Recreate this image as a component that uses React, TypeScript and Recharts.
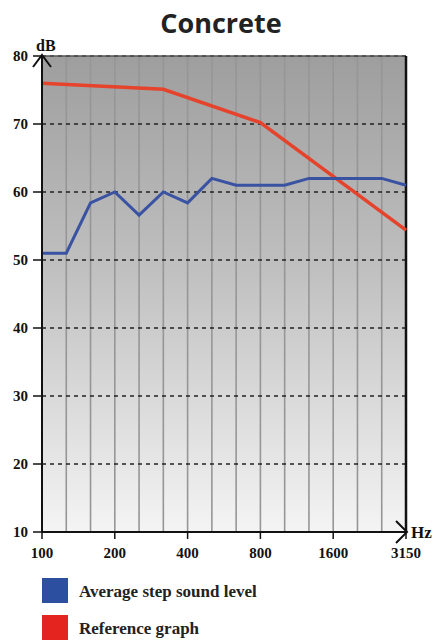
import React from "react";
import { LineChart, Line, XAxis, YAxis, CartesianGrid, ReferenceLine } from "recharts";

// third-octave bands, Hz
const bands = ["100", "125", "160", "200", "250", "315", "400", "500", "630", "800", "1000", "1250", "1600", "2000", "2500", "3150"];
const stepLevel = [51, 51, 58.4, 60, 56.6, 60, 58.4, 62, 61, 61, 61, 62, 62, 62, 62, 61];
// reference graph is straight segments between its corner bands
const referenceGraph = [76, null, null, null, null, 75.1, null, null, null, 70.2, null, null, null, null, null, 54.4];
const labeledBands = ["100", "200", "400", "800", "1600", "3150"];
const dbTicks = [10, 20, 30, 40, 50, 60, 70, 80];

const data = bands.map((hz, i) => ({ hz, step: stepLevel[i], ref: referenceGraph[i] }));

const SERIF = "'Liberation Serif', 'DejaVu Serif', serif";
const BLUE = "#3a52a2";
const RED = "#e5432c";

const HzTick = ({ x, y, payload }: any) => {
  if (!labeledBands.includes(payload.value)) return null;
  return (
    <g>
      <line x1={x} x2={x} y1={y} y2={y + 7} stroke="#111" strokeWidth={1.5} />
      <text x={x} y={y + 26} textAnchor="middle" fontFamily={SERIF} fontWeight="bold" fontSize={15} fill="#111">
        {payload.value}
      </text>
    </g>
  );
};

export default function App() {
  return (
    <div style={{ position: "absolute", left: 0, top: 0, width: 435, height: 644, background: "#fff" }}>
      <LineChart width={435} height={644} data={data} margin={{ top: 56, right: 29, left: 0, bottom: 82 }}>
        <defs>
          <linearGradient id="bgGrad" x1="0" y1="0" x2="0" y2="1">
            <stop offset="0%" stopColor="#9e9e9e" />
            <stop offset="45%" stopColor="#c0c0c0" />
            <stop offset="100%" stopColor="#f4f4f4" />
          </linearGradient>
        </defs>
        <CartesianGrid horizontal={false} stroke="#969696" strokeWidth={1.6} fill="url(#bgGrad)" fillOpacity={1} />
        <CartesianGrid vertical={false} stroke="#222" strokeWidth={1.4} strokeDasharray="4 4" />
        <XAxis
          dataKey="hz"
          interval={0}
          height={30}
          tickSize={0}
          tickMargin={0}
          tickLine={false}
          tick={<HzTick />}
          axisLine={{ stroke: "#111", strokeWidth: 2 }}
        />
        <YAxis
          type="number"
          domain={[10, 80]}
          ticks={dbTicks}
          width={42}
          tickSize={9}
          tickMargin={5}
          tickLine={{ stroke: "#111", strokeWidth: 1.5 }}
          axisLine={{ stroke: "#111", strokeWidth: 2 }}
          tick={{ fill: "#111", fontFamily: SERIF, fontWeight: "bold", fontSize: 15 }}
        />
        <ReferenceLine y={80} stroke="#555" strokeWidth={1.6} />
        <ReferenceLine x="3150" stroke="#111" strokeWidth={2.5} />
        <Line type="linear" dataKey="ref" stroke={RED} strokeWidth={3.5} dot={false} connectNulls isAnimationActive={false} />
        <Line type="linear" dataKey="step" stroke={BLUE} strokeWidth={3} dot={false} isAnimationActive={false} />
      </LineChart>
      <svg width={435} height={644} style={{ position: "absolute", left: 0, top: 0, pointerEvents: "none" }}>
        <text x={221} y={33} textAnchor="middle" fontFamily="'Open Sans', sans-serif" fontWeight={700} fontSize={27} fill="#222">
          Concrete
        </text>
        <path d="M33 67 L42 55 L51 67" fill="none" stroke="#111" strokeWidth={2} />
        <text x={36} y={51} fontFamily={SERIF} fontWeight="bold" fontSize={16} fill="#111">dB</text>
        <path d="M396 521 L407 532 L396 543" fill="none" stroke="#111" strokeWidth={2} />
        <text x={411} y={538} fontFamily={SERIF} fontWeight="bold" fontSize={17} fill="#111">Hz</text>
        <rect x={42} y={578} width={26} height={25} fill="#2c4f9f" />
        <text x={79} y={597} fontFamily={SERIF} fontWeight="bold" fontSize={17} fill="#222">Average step sound level</text>
        <rect x={42} y={615} width={26} height={25} fill="#e3241f" />
        <text x={79} y={634} fontFamily={SERIF} fontWeight="bold" fontSize={17} fill="#222">Reference graph</text>
      </svg>
    </div>
  );
}
